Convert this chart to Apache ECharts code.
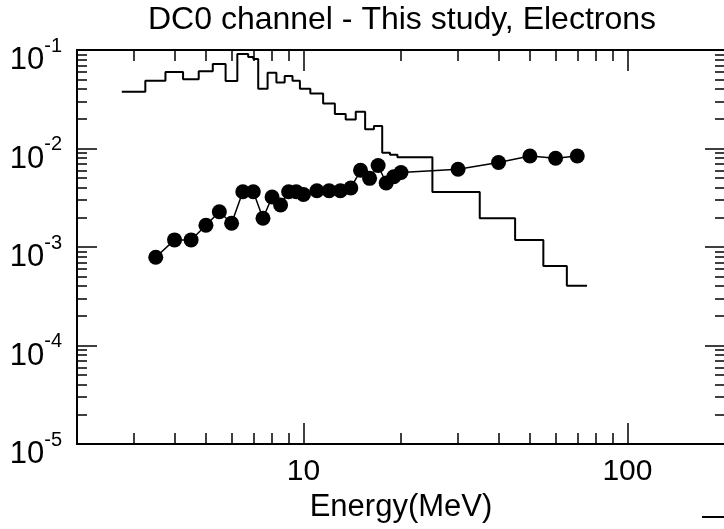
<!DOCTYPE html>
<html lang="en">
<head>
    <meta charset="UTF-8">
    <title>DC0 channel - This study, Electrons</title>
    <script src="https://cdn.jsdelivr.net/npm/echarts@6.0.0/dist/echarts.min.js"></script>
    <style>
        body { margin: 0; background: #fff; }
        #chart { width: 724px; height: 529px; }
    </style>
</head>
<body>
    <div id="chart"></div>
    <script>
        // histogram: bin lower edges (MeV) and values, last edge closes the last bin
        const binEdges = [2.75, 3.25, 3.75, 4.25, 4.75, 5.25, 5.75, 6.25, 6.75, 7.0, 7.25, 7.75, 8.25, 8.75,
                          9.25, 9.75, 10.5, 11.5, 12.5, 13.5, 14.5, 15.5, 16.5, 17.5, 18.5, 19.5, 25, 35, 45, 55, 65, 75];
        const binValues = [0.0377, 0.0488, 0.0598, 0.0504, 0.0608, 0.0721, 0.0484, 0.0911, 0.0849, 0.081,
                           0.0405, 0.0588, 0.0468, 0.0545, 0.0488, 0.0405, 0.0362, 0.0286, 0.0224, 0.0197,
                           0.0236, 0.0157, 0.0169, 0.00907, 0.00863, 0.00814, 0.00362, 0.00196, 0.00118,
                           0.000641, 0.000405];

        // measured points
        const pointEnergy = [3.5, 4, 4.5, 5, 5.5, 6, 6.5, 7, 7.5, 8, 8.5, 9, 9.5, 10, 11, 12, 13, 14, 15, 16,
                             17, 18, 19, 20, 30, 40, 50, 60, 70];
        const pointValues = [0.000786, 0.00118, 0.00118, 0.00166, 0.00228, 0.00174, 0.00364, 0.00364, 0.00196,
                             0.00322, 0.00267, 0.00364, 0.00364, 0.00341, 0.00373, 0.00373, 0.00373, 0.00397,
                             0.00601, 0.00498, 0.00672, 0.00446, 0.00517, 0.0057, 0.00615, 0.00721, 0.00839,
                             0.00795, 0.00839];

        // axis ticks
        const xMajorTicks = [10, 100];
        const xMinorTicks = [3, 4, 5, 6, 7, 8, 9, 20, 30, 40, 50, 60, 70, 80, 90];
        const yMajorTicks = [1e-5, 1e-4, 1e-3, 1e-2, 1e-1];
        const yMinorSteps = [2, 3, 4, 5, 6, 7, 8, 9];

        const yMinorTicks = [];
        for (let d = -5; d < -1; d++) {
            yMinorSteps.forEach(k => yMinorTicks.push(+(k * Math.pow(10, d)).toPrecision(3)));
        }

        const histData = binEdges.map((e, i) => [e, binValues[Math.min(i, binValues.length - 1)]]);
        const pointData = pointEnergy.map((e, i) => [e, pointValues[i]]);

        const font = 'Liberation Sans, Arial, sans-serif';
        const axisLine = { show: true, lineStyle: { color: '#000', width: 2 } };

        function xAx(pos, ticks, len, extra) {
            return Object.assign({
                type: 'log', logBase: 10, min: 2, max: 200, position: pos,
                axisLine: axisLine,
                axisTick: { show: true, inside: true, length: len, customValues: ticks,
                            lineStyle: { color: '#000', width: 1.5 } },
                axisLabel: { show: false },
                splitLine: { show: false }, minorTick: { show: false }
            }, extra || {});
        }
        function yAx(pos, ticks, len, extra) {
            return Object.assign({
                type: 'log', logBase: 10, min: 1e-5, max: 0.1, position: pos,
                axisLine: axisLine,
                axisTick: { show: true, inside: true, length: len, customValues: ticks,
                            lineStyle: { color: '#000', width: 1.5 } },
                axisLabel: { show: false },
                splitLine: { show: false }, minorTick: { show: false }
            }, extra || {});
        }

        const chart = echarts.init(document.getElementById('chart'));
        chart.setOption({
            animation: false,
            title: {
                text: 'DC0 channel - This study, Electrons',
                left: 397, top: -1, textAlign: 'center',
                textStyle: { fontFamily: font, fontSize: 32, fontWeight: 'normal', color: '#000' }
            },
            grid: { left: 77, top: 50, width: 648, height: 394, outerBoundsMode: 'none', containLabel: false },
            xAxis: [
                xAx('bottom', xMajorTicks, 21, {
                    name: 'Energy(MeV)', nameLocation: 'middle', nameGap: 45,
                    nameTextStyle: { fontFamily: font, fontSize: 31, color: '#000' },
                    axisLabel: { show: true, customValues: xMajorTicks, margin: 13,
                                 fontFamily: font, fontSize: 30, color: '#000' }
                }),
                xAx('bottom', xMinorTicks, 11),
                xAx('top', xMajorTicks, 21),
                xAx('top', xMinorTicks, 11)
            ],
            yAxis: [
                yAx('left', yMajorTicks, 20, {
                    axisLabel: {
                        show: true, customValues: yMajorTicks, margin: 15,
                        padding: [12, 0, 0, 0],
                        formatter: v => '{b|10}{s|' + Math.round(Math.log10(v)) + '}',
                        rich: {
                            b: { fontFamily: font, fontSize: 31, color: '#000', lineHeight: 30,
                                 padding: [14, 0, 0, 0], verticalAlign: 'bottom' },
                            s: { fontFamily: font, fontSize: 20, color: '#000', lineHeight: 40, verticalAlign: 'top' }
                        }
                    }
                }),
                yAx('left', yMinorTicks, 10),
                yAx('right', yMajorTicks, 20),
                yAx('right', yMinorTicks, 10)
            ],
            series: [
                {
                    name: 'histogram', type: 'line', step: 'end',
                    data: histData, showSymbol: false, symbol: 'none',
                    lineStyle: { color: '#000', width: 2 }
                },
                {
                    name: 'points', type: 'line', data: pointData,
                    symbol: 'circle', symbolSize: 15,
                    itemStyle: { color: '#000' },
                    lineStyle: { color: '#000', width: 1.5 }
                }
            ],
            graphic: [
                { type: 'line', shape: { x1: 702, y1: 517, x2: 724, y2: 517 },
                  style: { stroke: '#000', lineWidth: 2 } }
            ]
        });
    </script>
</body>
</html>
